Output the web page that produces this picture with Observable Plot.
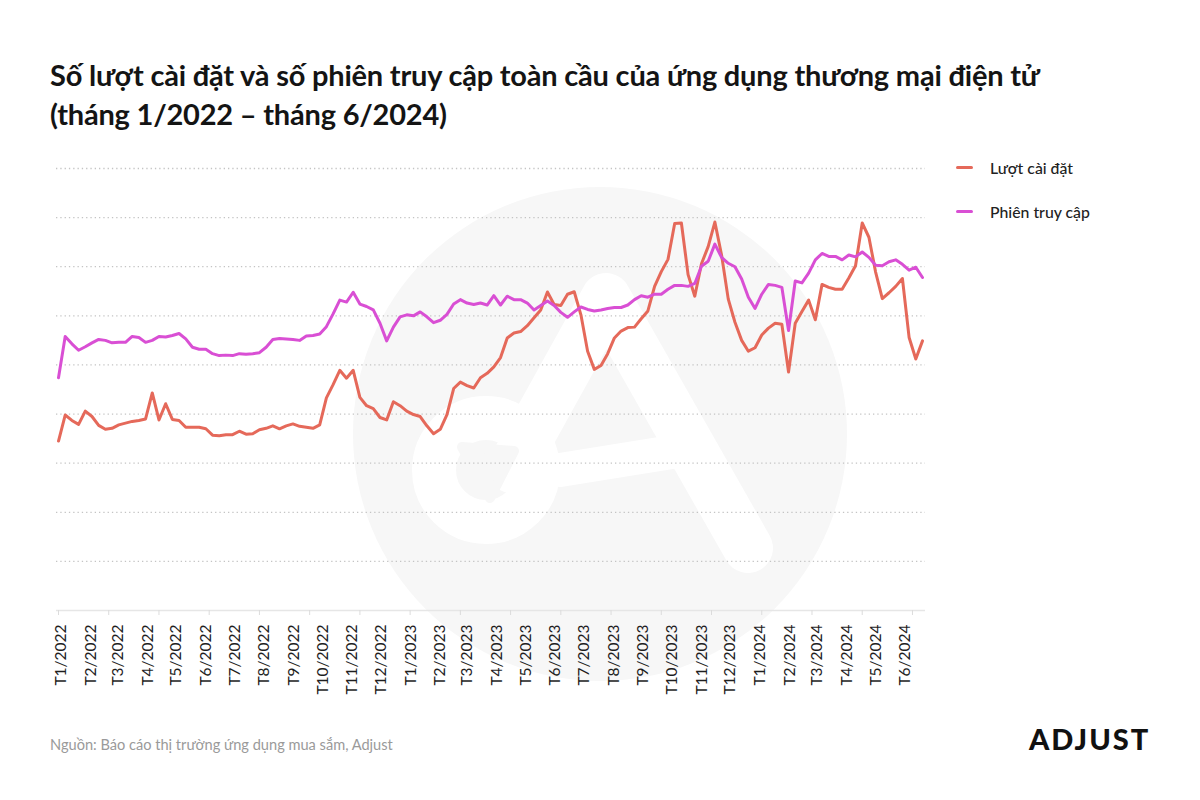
<!DOCTYPE html>
<html>
<head>
<meta charset="utf-8">
<script src="https://cdn.jsdelivr.net/npm/d3@7"></script>
<script src="https://cdn.jsdelivr.net/npm/@observablehq/plot@0.6"></script>
<style>
  html, body { margin: 0; padding: 0; background: #ffffff; }
  #wrap { position: relative; width: 1200px; height: 800px; overflow: hidden; font-family: Lato, "Noto Sans", sans-serif; color: #1a1a1a; }
  #bg { position: absolute; left: 0; top: 0; }
  #title { position: absolute; left: 50px; top: 55px; font-size: 29px; font-weight: 700; line-height: 39px; letter-spacing: -0.2px; color: #141414; white-space: nowrap; }
  #chart { position: absolute; left: 0; top: 150px; }
  #legend { position: absolute; left: 956px; top: 155px; font-size: 15.8px; font-weight: 500; color: #222; }
  .lg { display: flex; align-items: center; height: 24px; margin-bottom: 20px; }
  .sw { width: 17px; height: 3px; border-radius: 2px; margin-right: 17px; }
  #source { position: absolute; left: 50px; top: 736px; font-size: 14.6px; color: #9a9a9a; }
  #logo { position: absolute; left: 1029px; top: 721px; font-size: 29px; font-weight: 900; letter-spacing: 2px; color: #111; }
</style>
</head>
<body>
<div id="wrap">
  <svg id="bg" width="1200" height="800">
    <circle cx="600" cy="434" r="247" fill="#f7f7f7"></circle>
    <g fill="none" stroke="#ffffff" stroke-linecap="round" stroke-linejoin="round">
      <path d="M 748 548 L 606 298 L 512 468" stroke-width="50"></path>
      <circle cx="486" cy="470" r="52" stroke-width="44"></circle>
      <path d="M 560 470 L 672 452" stroke-width="34"></path>
    </g>
    <path d="M 462 447 L 514 451 L 490 498 Z" fill="#f7f7f7" stroke="#f7f7f7" stroke-width="10" stroke-linejoin="round"></path>
  </svg>
  <div id="title">Số lượt cài đặt và số phiên truy cập toàn cầu của ứng dụng thương mại điện tử<br>(tháng 1/2022 – tháng 6/2024)</div>
  <div id="chart"></div>
  <div id="legend"></div>
  <div id="source">Nguồn: Báo cáo thị trường ứng dụng mua sắm, Adjust</div>
  <div id="logo">ADJUST</div>
</div>
<script>
// Series names and colours
const seriesNames = ["Lượt cài đặt", "Phiên truy cập"];
const seriesColors = ["#e5695a", "#d94fd4"];

// Weekly values (relative index), Jan 2022 – Jun 2024
const installs = [
  34.5, 39.8, 38.7, 37.9, 40.6, 39.5, 37.7, 36.9, 37.1, 37.8,
  38.15, 38.5, 38.7, 39.0, 44.3, 38.8, 42.1, 38.9, 38.7, 37.3,
  37.3, 37.3, 37.0, 35.7, 35.6, 35.8, 35.8, 36.5, 35.9, 36.0,
  36.8, 37.1, 37.6, 37.0, 37.6, 38.0, 37.5, 37.3, 37.1, 37.8,
  43.3, 46.0, 48.9, 47.3, 48.9, 43.4, 41.7, 41.1, 39.3, 38.8,
  42.5, 41.7, 40.6, 39.9, 39.5, 37.6, 36.0, 36.9, 39.9, 45.2,
  46.5, 45.8, 45.3, 47.4, 48.3, 49.6, 51.5, 55.5, 56.5, 56.8,
  58.0, 59.6, 61.2, 64.85, 62.3, 62.1, 64.4, 64.9, 60.2, 52.8,
  49.1, 49.9, 52.3, 55.5, 56.9, 57.6, 57.7, 59.4, 61.0, 66.0,
  69.0, 71.5, 78.8, 78.9, 68.4, 64.0, 70.6, 74.1, 79.1, 72.4,
  63.4, 58.7, 55.0, 52.8, 53.5, 56.1, 57.5, 58.5, 58.3, 48.55,
  58.5, 60.9, 63.2, 59.2, 66.4, 65.8, 65.4, 65.4, 67.7, 70.2,
  78.9, 76.0, 68.9, 63.5, 64.7, 66.0, 67.6, 55.6, 51.2, 54.9
];
const sessions = [
  47.4, 55.8, 54.3, 53.0, 53.7, 54.5, 55.2, 55.0, 54.5, 54.6,
  54.6, 55.8, 55.6, 54.6, 55.0, 55.8, 55.7, 56.0, 56.4, 55.3,
  53.6, 53.2, 53.2, 52.3, 51.9, 52.0, 51.9, 52.3, 52.2, 52.3,
  52.5, 53.6, 55.2, 55.4, 55.3, 55.2, 55.0, 55.9, 56.0, 56.3,
  57.8, 60.4, 63.2, 62.8, 64.8, 62.4, 61.9, 61.2, 58.5, 54.9,
  57.7, 59.8, 60.2, 60.0, 60.8, 59.8, 58.6, 59.1, 60.3, 62.4,
  63.3, 62.6, 62.3, 62.6, 62.2, 64.1, 62.2, 64.0, 63.3, 63.3,
  62.6, 61.2, 62.1, 63.0, 62.1, 60.7, 59.7, 60.8, 61.8, 61.3,
  61.0, 61.2, 61.5, 61.7, 61.7, 62.2, 63.3, 64.1, 63.8, 64.4,
  64.4, 65.4, 66.2, 66.2, 66.0, 66.6, 70.1, 71.1, 74.6, 71.9,
  70.7, 70.0, 67.5, 63.8, 61.5, 64.4, 66.4, 66.2, 65.8, 57.0,
  67.1, 66.7, 68.7, 71.4, 72.7, 72.1, 72.1, 71.4, 72.4, 72.0,
  73.0, 71.9, 70.3, 70.2, 71.0, 71.4, 70.5, 69.3, 69.9, 67.8
];

// Month tick labels
const tickLabels = [
  "T1/2022","T2/2022","T3/2022","T4/2022","T5/2022","T6/2022","T7/2022","T8/2022","T9/2022","T10/2022","T11/2022","T12/2022",
  "T1/2023","T2/2023","T3/2023","T4/2023","T5/2023","T6/2023","T7/2023","T8/2023","T9/2023","T10/2023","T11/2023","T12/2023",
  "T1/2024","T2/2024","T3/2024","T4/2024","T5/2024","T6/2024"
];

// Week dates (categories)
const startDate = new Date(2022, 0, 1);
const dates = installs.map((_, i) => d3.timeDay.offset(startDate, 7 * i));
const monthDates = tickLabels.map((_, i) => new Date(2022, i, 1));
const labelMap = new Map(monthDates.map((d, i) => [+d, tickLabels[i]]));
const minorTicks = d3.range(18).map(k => d3.timeHour.offset(startDate, Math.round(k * 52.5 * 24)));

const rows = [];
dates.forEach((d, i) => {
  rows.push({date: d, series: seriesNames[0], value: installs[i]});
});
dates.forEach((d, i) => {
  rows.push({date: d, series: seriesNames[1], value: sessions[i]});
});

const chart = Plot.plot({
  width: 1200,
  height: 570,
  marginLeft: 58,
  marginRight: 278,
  marginTop: 18,
  marginBottom: 110,
  style: {background: "transparent", fontFamily: "Lato, 'Noto Sans', sans-serif", overflow: "visible"},
  x: {type: "time", domain: [dates[0], dates[dates.length - 1]]},
  y: {domain: [0, 90], axis: null},
  color: {domain: seriesNames, range: seriesColors},
  marks: [
    Plot.gridY(d3.range(10, 100, 10), {stroke: "#c4c4c4", strokeOpacity: 1, strokeWidth: 1.3, strokeDasharray: "1.3,3", insetLeft: -2, insetRight: -3}),
    Plot.ruleY([0], {stroke: "#e6e6e6", strokeWidth: 1.5, insetLeft: -2, insetRight: -3}),
    Plot.axisX(minorTicks, {tickSize: 5, tickFormat: () => "", stroke: "#dcdcdc"}),
    Plot.axisX(monthDates, {tickSize: 0, tickPadding: 14, tickRotate: -90, fontSize: 15.5, fill: "#1e1e1e", tickFormat: d => labelMap.get(+d), label: null, dx: 3}),
    Plot.line(rows, {x: "date", y: "value", z: "series", stroke: "series", strokeWidth: 3, strokeLinejoin: "round", strokeLinecap: "round"})
  ]
});
document.getElementById("chart").appendChild(chart);

const legend = document.getElementById("legend");
seriesNames.forEach((n, i) => {
  const row = document.createElement("div");
  row.className = "lg";
  row.innerHTML = `<span class="sw" style="background:${seriesColors[i]}"></span><span>${n}</span>`;
  legend.appendChild(row);
});
</script>
</body>
</html>
